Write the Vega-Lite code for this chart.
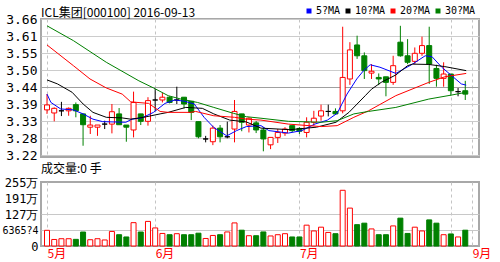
{
  "$schema": "https://vega.github.io/schema/vega-lite/v6.json",
  "background": "white",
  "padding": {"left": 0, "top": 6, "right": 0, "bottom": 0},
  "spacing": -2,
  "datasets": {
    "days": [
      {"i":0,"o":3.366,"c":3.382,"h":3.417,"l":3.353,"v":62.5},
      {"i":1,"o":3.356,"c":3.371,"h":3.374,"l":3.329,"v":26},
      {"i":2,"o":3.363,"c":3.363,"h":3.392,"l":3.346,"v":29},
      {"i":3,"o":3.363,"c":3.371,"h":3.374,"l":3.347,"v":29},
      {"i":4,"o":3.383,"c":3.363,"h":3.39,"l":3.342,"v":26.5},
      {"i":5,"o":3.353,"c":3.318,"h":3.353,"l":3.25,"v":55.7},
      {"i":6,"o":3.31,"c":3.317,"h":3.347,"l":3.288,"v":25},
      {"i":7,"o":3.31,"c":3.317,"h":3.317,"l":3.282,"v":29},
      {"i":8,"o":3.32,"c":3.32,"h":3.331,"l":3.304,"v":24},
      {"i":9,"o":3.32,"c":3.36,"h":3.385,"l":3.29,"v":58},
      {"i":10,"o":3.353,"c":3.318,"h":3.372,"l":3.318,"v":45},
      {"i":11,"o":3.317,"c":3.31,"h":3.317,"l":3.263,"v":36},
      {"i":12,"o":3.301,"c":3.39,"h":3.425,"l":3.277,"v":93},
      {"i":13,"o":3.353,"c":3.329,"h":3.353,"l":3.317,"v":55.7},
      {"i":14,"o":3.329,"c":3.396,"h":3.407,"l":3.315,"v":98},
      {"i":15,"o":3.398,"c":3.398,"h":3.434,"l":3.363,"v":72},
      {"i":16,"o":3.398,"c":3.407,"h":3.421,"l":3.39,"v":50},
      {"i":17,"o":3.407,"c":3.39,"h":3.41,"l":3.387,"v":45},
      {"i":18,"o":3.398,"c":3.398,"h":3.441,"l":3.385,"v":49},
      {"i":19,"o":3.407,"c":3.385,"h":3.407,"l":3.371,"v":45},
      {"i":20,"o":3.394,"c":3.358,"h":3.394,"l":3.333,"v":45},
      {"i":21,"o":3.328,"c":3.279,"h":3.328,"l":3.274,"v":51},
      {"i":22,"o":3.272,"c":3.272,"h":3.282,"l":3.261,"v":30},
      {"i":23,"o":3.263,"c":3.307,"h":3.315,"l":3.252,"v":42},
      {"i":24,"o":3.307,"c":3.279,"h":3.317,"l":3.261,"v":45},
      {"i":25,"o":3.279,"c":3.279,"h":3.328,"l":3.274,"v":56},
      {"i":26,"o":3.304,"c":3.361,"h":3.398,"l":3.261,"v":92},
      {"i":27,"o":3.353,"c":3.326,"h":3.353,"l":3.297,"v":63},
      {"i":28,"o":3.317,"c":3.339,"h":3.342,"l":3.293,"v":41},
      {"i":29,"o":3.324,"c":3.301,"h":3.33,"l":3.291,"v":41},
      {"i":30,"o":3.301,"c":3.272,"h":3.31,"l":3.232,"v":56},
      {"i":31,"o":3.253,"c":3.277,"h":3.277,"l":3.239,"v":40},
      {"i":32,"o":3.277,"c":3.293,"h":3.304,"l":3.259,"v":45},
      {"i":33,"o":3.291,"c":3.304,"h":3.31,"l":3.282,"v":49},
      {"i":34,"o":3.315,"c":3.299,"h":3.315,"l":3.294,"v":36},
      {"i":35,"o":3.306,"c":3.297,"h":3.31,"l":3.288,"v":36},
      {"i":36,"o":3.293,"c":3.326,"h":3.342,"l":3.277,"v":83},
      {"i":37,"o":3.326,"c":3.339,"h":3.363,"l":3.315,"v":60},
      {"i":38,"o":3.346,"c":3.363,"h":3.383,"l":3.331,"v":75},
      {"i":39,"o":3.361,"c":3.361,"h":3.383,"l":3.345,"v":54},
      {"i":40,"o":3.361,"c":3.353,"h":3.371,"l":3.353,"v":49},
      {"i":41,"o":3.363,"c":3.471,"h":3.635,"l":3.355,"v":222},
      {"i":42,"o":3.466,"c":3.56,"h":3.585,"l":3.447,"v":151},
      {"i":43,"o":3.576,"c":3.541,"h":3.606,"l":3.531,"v":85},
      {"i":44,"o":3.541,"c":3.493,"h":3.552,"l":3.466,"v":91},
      {"i":45,"o":3.485,"c":3.491,"h":3.514,"l":3.466,"v":68},
      {"i":46,"o":3.471,"c":3.466,"h":3.484,"l":3.446,"v":45},
      {"i":47,"o":3.473,"c":3.455,"h":3.473,"l":3.41,"v":45},
      {"i":48,"o":3.455,"c":3.509,"h":3.541,"l":3.447,"v":80},
      {"i":49,"o":3.585,"c":3.541,"h":3.638,"l":3.538,"v":111},
      {"i":50,"o":3.541,"c":3.52,"h":3.595,"l":3.514,"v":50},
      {"i":51,"o":3.523,"c":3.549,"h":3.568,"l":3.514,"v":75},
      {"i":52,"o":3.549,"c":3.574,"h":3.603,"l":3.541,"v":60},
      {"i":53,"o":3.574,"c":3.514,"h":3.635,"l":3.45,"v":104},
      {"i":54,"o":3.5,"c":3.468,"h":3.512,"l":3.441,"v":91},
      {"i":55,"o":3.468,"c":3.482,"h":3.52,"l":3.441,"v":45},
      {"i":56,"o":3.482,"c":3.428,"h":3.482,"l":3.412,"v":48},
      {"i":57,"o":3.425,"c":3.425,"h":3.437,"l":3.41,"v":36},
      {"i":58,"o":3.428,"c":3.417,"h":3.46,"l":3.398,"v":63}
    ],
    "ma": [
      {"s":"5?MA","i":0,"p":3.417},{"s":"5?MA","i":0.54,"p":3.39},{"s":"5?MA","i":1.9,"p":3.369},
      {"s":"5?MA","i":3.66,"p":3.366},{"s":"5?MA","i":5,"p":3.353},{"s":"5?MA","i":6.37,"p":3.336},
      {"s":"5?MA","i":7.72,"p":3.328},{"s":"5?MA","i":10.93,"p":3.326},{"s":"5?MA","i":11.79,"p":3.336},
      {"s":"5?MA","i":13.14,"p":3.34},{"s":"5?MA","i":14.77,"p":3.358},{"s":"5?MA","i":16.36,"p":3.387},
      {"s":"5?MA","i":17.71,"p":3.398},{"s":"5?MA","i":19.07,"p":3.394},{"s":"5?MA","i":20.42,"p":3.385},
      {"s":"5?MA","i":21.78,"p":3.342},{"s":"5?MA","i":23.13,"p":3.309},{"s":"5?MA","i":24.93,"p":3.282},
      {"s":"5?MA","i":26.29,"p":3.299},{"s":"5?MA","i":27.64,"p":3.312},{"s":"5?MA","i":29.67,"p":3.315},
      {"s":"5?MA","i":30.76,"p":3.299},{"s":"5?MA","i":33.47,"p":3.291},{"s":"5?MA","i":35.33,"p":3.299},
      {"s":"5?MA","i":37.13,"p":3.32},{"s":"5?MA","i":38.89,"p":3.333},{"s":"5?MA","i":40.24,"p":3.355},
      {"s":"5?MA","i":41.6,"p":3.417},{"s":"5?MA","i":42.95,"p":3.466},{"s":"5?MA","i":43.9,"p":3.493},
      {"s":"5?MA","i":44.81,"p":3.512},{"s":"5?MA","i":46.17,"p":3.504},{"s":"5?MA","i":48.37,"p":3.484},
      {"s":"5?MA","i":50.68,"p":3.514},{"s":"5?MA","i":52.44,"p":3.541},{"s":"5?MA","i":53.39,"p":3.538},
      {"s":"5?MA","i":54.74,"p":3.504},{"s":"5?MA","i":56.1,"p":3.477},{"s":"5?MA","i":57.45,"p":3.45},
      {"s":"5?MA","i":58.13,"p":3.446},
      {"s":"10?MA","i":0,"p":3.463},{"s":"10?MA","i":1.45,"p":3.45},{"s":"10?MA","i":3.48,"p":3.423},
      {"s":"10?MA","i":5.01,"p":3.385},{"s":"10?MA","i":6.37,"p":3.358},{"s":"10?MA","i":8.22,"p":3.342},
      {"s":"10?MA","i":10.43,"p":3.34},{"s":"10?MA","i":11.61,"p":3.336},{"s":"10?MA","i":13.41,"p":3.342},
      {"s":"10?MA","i":15.68,"p":3.353},{"s":"10?MA","i":16.8,"p":3.358},{"s":"10?MA","i":19.24,"p":3.374},
      {"s":"10?MA","i":21.54,"p":3.371},{"s":"10?MA","i":23.13,"p":3.353},{"s":"10?MA","i":25.34,"p":3.333},
      {"s":"10?MA","i":27.64,"p":3.327},{"s":"10?MA","i":29.67,"p":3.307},{"s":"10?MA","i":33.7,"p":3.302},
      {"s":"10?MA","i":37.36,"p":3.31},{"s":"10?MA","i":40.07,"p":3.326},{"s":"10?MA","i":41.87,"p":3.358},
      {"s":"10?MA","i":44.13,"p":3.412},{"s":"10?MA","i":45,"p":3.433},{"s":"10?MA","i":46.34,"p":3.455},
      {"s":"10?MA","i":48.37,"p":3.479},{"s":"10?MA","i":50,"p":3.509},{"s":"10?MA","i":50.68,"p":3.514},
      {"s":"10?MA","i":52.94,"p":3.513},{"s":"10?MA","i":55.15,"p":3.506},{"s":"10?MA","i":58.13,"p":3.493},
      {"s":"20?MA","i":0,"p":3.576},{"s":"20?MA","i":3.66,"p":3.509},{"s":"20?MA","i":5.96,"p":3.466},
      {"s":"20?MA","i":8.22,"p":3.437},{"s":"20?MA","i":10.43,"p":3.417},{"s":"20?MA","i":11.61,"p":3.392},
      {"s":"20?MA","i":14.09,"p":3.387},{"s":"20?MA","i":15.68,"p":3.361},{"s":"20?MA","i":16.8,"p":3.358},
      {"s":"20?MA","i":19.92,"p":3.358},{"s":"20?MA","i":20.6,"p":3.361},{"s":"20?MA","i":23.13,"p":3.347},
      {"s":"20?MA","i":26.02,"p":3.342},{"s":"20?MA","i":27.64,"p":3.336},{"s":"20?MA","i":29.67,"p":3.333},
      {"s":"20?MA","i":33.47,"p":3.32},{"s":"20?MA","i":38.03,"p":3.312},{"s":"20?MA","i":40.24,"p":3.315},
      {"s":"20?MA","i":42.55,"p":3.342},{"s":"20?MA","i":44.58,"p":3.363},{"s":"20?MA","i":48.37,"p":3.412},
      {"s":"20?MA","i":52.94,"p":3.455},{"s":"20?MA","i":55.15,"p":3.473},{"s":"20?MA","i":58.13,"p":3.484},
      {"s":"30?MA","i":0,"p":3.638},{"s":"30?MA","i":3.66,"p":3.59},{"s":"30?MA","i":8.22,"p":3.52},
      {"s":"30?MA","i":12.74,"p":3.46},{"s":"30?MA","i":14.77,"p":3.437},{"s":"30?MA","i":16.8,"p":3.412},
      {"s":"30?MA","i":18.56,"p":3.401},{"s":"30?MA","i":20.87,"p":3.39},{"s":"30?MA","i":23.13,"p":3.374},
      {"s":"30?MA","i":25.84,"p":3.355},{"s":"30?MA","i":27.64,"p":3.344},{"s":"30?MA","i":29.67,"p":3.339},
      {"s":"30?MA","i":33.47,"p":3.329},{"s":"30?MA","i":38.03,"p":3.326},{"s":"30?MA","i":40.24,"p":3.331},
      {"s":"30?MA","i":42.55,"p":3.353},{"s":"30?MA","i":44.58,"p":3.361},{"s":"30?MA","i":48.37,"p":3.374},
      {"s":"30?MA","i":52.94,"p":3.401},{"s":"30?MA","i":56.1,"p":3.414},{"s":"30?MA","i":58.13,"p":3.423}
    ]
  },
  "config": {
    "view": {"stroke": "#a8a8a8", "strokeWidth": 2},
    "axis": {"ticks": false, "domain": false, "labelFont": "DejaVu Sans Mono", "labelColor": "#000000", "labelFontSize": 13, "labelOverlap": false},
    "axisY": {"minExtent": 40, "maxExtent": 40, "labelPadding": 4}
  },
  "vconcat": [
    {
      "width": 438,
      "height": 138,
      "title": {"text": "ICL集团[000100] 2016-09-13", "anchor": "start", "frame": "group", "font": "Noto Sans CJK SC", "fontSize": 12, "fontWeight": "normal", "color": "#000000", "offset": -7},
      "data": {"name": "days"},
      "encoding": {
        "x": {"field": "i", "type": "quantitative", "title": null,
              "scale": {"domain": [-0.14, 59.21], "nice": false, "zero": false},
              "axis": {"values": [0, 15, 35, 56, 58.95], "labels": false, "grid": true, "gridDash": [3, 3], "gridColor": "#c4c4c4", "minExtent": 0, "maxExtent": 0}},
        "y": {"type": "quantitative", "title": null,
              "scale": {"domain": [3.2136, 3.66], "nice": false, "zero": false},
              "axis": {"values": [3.22, 3.275, 3.33, 3.385, 3.44, 3.495, 3.55, 3.605, 3.66],
                       "labelExpr": "format(datum.value + 0.0001, '.2f')",
                       "labelOverlap": false, "labelSeparation": 0,
                       "grid": true,
                       "gridColor": {"condition": {"test": "datum.value == 3.44", "value": "#a0a0a0"}, "value": "#cccccc"}}}
      },
      "layer": [
        {
          "mark": {"type": "rule", "strokeWidth": 1},
          "encoding": {
            "y": {"field": "l"},
            "y2": {"field": "h"},
            "color": {"condition": [{"test": "datum.c > datum.o", "value": "#ff0000"}, {"test": "datum.c < datum.o", "value": "#008000"}], "value": "#000000"}
          }
        },
        {
          "mark": {"type": "bar", "width": 5, "strokeWidth": 1},
          "encoding": {
            "y": {"field": "o"},
            "y2": {"field": "c"},
            "fill": {"condition": [{"test": "datum.c > datum.o", "value": "#ffffff"}, {"test": "datum.c < datum.o", "value": "#008000"}], "value": "transparent"},
            "stroke": {"condition": [{"test": "datum.c > datum.o", "value": "#ff0000"}, {"test": "datum.c < datum.o", "value": "#008000"}], "value": "#000000"}
          }
        },
        {
          "data": {"name": "ma"},
          "mark": {"type": "line", "strokeWidth": 1},
          "encoding": {
            "y": {"field": "p"},
            "color": {"field": "s", "type": "nominal",
                      "scale": {"domain": ["5?MA", "10?MA", "20?MA", "30?MA"], "range": ["#0000ff", "#000000", "#ff0000", "#008000"]},
                      "legend": {"title": null, "orient": "none", "legendX": 263, "legendY": -13, "direction": "horizontal",
                                 "gridAlign": "none",
                                 "symbolType": "square", "symbolSize": 4, "symbolStrokeWidth": 3,
                                 "labelFont": "DejaVu Sans Mono", "labelFontSize": 10, "labelColor": "#000000",
                                 "labelOffset": 2, "columnPadding": 0, "padding": 0}}
          }
        }
      ]
    },
    {
      "width": 438,
      "height": 64,
      "title": {"text": "成交量:0 手", "anchor": "start", "frame": "group", "font": "Noto Sans CJK SC", "fontSize": 12, "fontWeight": "normal", "color": "#000000", "offset": 0},
      "data": {"name": "days"},
      "mark": {"type": "bar", "width": 5, "strokeWidth": 1},
      "encoding": {
        "x": {"field": "i", "type": "quantitative", "title": null,
              "scale": {"domain": [-0.14, 59.21], "nice": false, "zero": false},
              "axis": {"values": [0, 15, 35, 56, 58.95],
                       "labelExpr": "datum.value == 0 ? '5月' : datum.value == 15 ? '6月' : datum.value == 35 ? '7月' : datum.value > 58 ? '9月' : ''",
                       "labelColor": "#ff0000", "labelAlign": "left", "labelFlush": false,
                       "labelFont": "Noto Sans CJK SC", "labelFontSize": 12, "labelPadding": 2,
                       "grid": true, "gridDash": [3, 3], "gridColor": "#c4c4c4"}},
        "y": {"field": "v", "type": "quantitative", "title": null,
              "scale": {"domain": [0, 255], "nice": false},
              "axis": {"values": [0, 63.65, 127.3, 191, 255],
                       "labelExpr": "datum.value == 0 ? '0' : datum.value < 100 ? '6365?4' : datum.value < 150 ? '127万' : datum.value < 200 ? '191万' : '255万'",
                       "labelFontSize": {"condition": {"test": "datum.value > 60 && datum.value < 100", "value": 10}, "value": 12},
                       "labelPadding": 3,
                       "grid": true, "gridColor": "#c8c8c8",
                       "gridOpacity": {"condition": {"test": "datum.value > 60 && datum.value < 130", "value": 1}, "value": 0}}},
        "fill": {"condition": {"test": "datum.c < datum.o", "value": "#008000"}, "value": "#ffffff"},
        "stroke": {"condition": {"test": "datum.c < datum.o", "value": "#008000"}, "value": "#ff0000"}
      }
    }
  ]
}
